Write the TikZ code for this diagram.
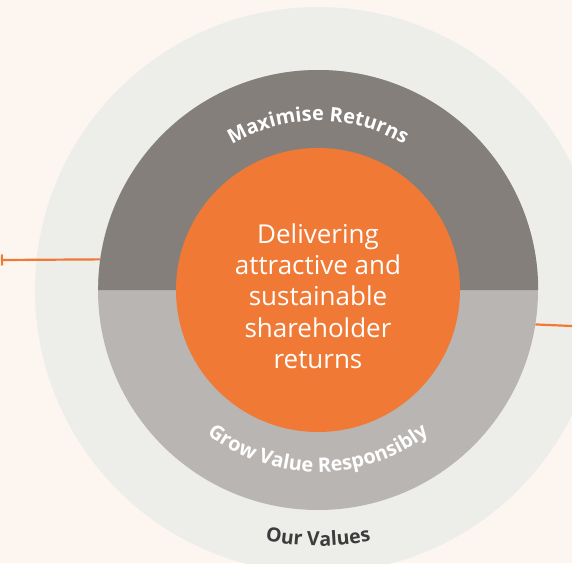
\documentclass[tikz,border=0pt]{standalone}
\usepackage{fontspec}
\setmainfont{Open Sans}
\usetikzlibrary{decorations.text,arrows.meta}
\definecolor{bgcol}{HTML}{FDF6F0}
\definecolor{outercol}{HTML}{EDEDEA}
\definecolor{darkcol}{HTML}{857F7B}
\definecolor{lightcol}{HTML}{B9B5B2}
\definecolor{orangecol}{HTML}{F07A35}
\definecolor{valtext}{HTML}{3C3C3C}
\tikzset{
  disc/.style={circle, draw=none, inner sep=0pt},
  connector/.style={draw=orangecol, line width=2.2pt},
  arctext/.style={decorate, decoration={text along path, text align=center, text color=white}},
}
\begin{document}
\begin{tikzpicture}[x=1pt,y=1pt]
\useasboundingbox[fill=bgcol] (-318,-273) rectangle (254,290);
\begin{scope}
\clip (-318,-273) rectangle (254,290);
\node[disc, fill=outercol, minimum size=566pt] (outer) at (0,0) {};
\node[disc, fill=lightcol, minimum size=440pt] (ring) at (0,0) {};
\fill[darkcol] (ring.east) arc[start angle=0, end angle=180, radius=220pt] -- cycle;
\node[disc, fill=orangecol, minimum size=284pt] (core) at (0,0) {};
\end{scope}
\node[text=white, align=center, font=\fontsize{26}{31.3}\selectfont] (msg) at (0,-6)
  {Delivering\\attractive and\\sustainable\\shareholder\\returns};
\path[arctext, decoration={text={|\fontsize{20}{20}\selectfont\bfseries|Maximise Returns}}]
  (150:169) arc[start angle=150, end angle=30, radius=169pt];
\path[arctext, decoration={text={|\fontsize{20}{20}\selectfont\bfseries|Grow Value Responsibly}}]
  (200:182) arc[start angle=200, end angle=340, radius=182pt];
\path[decorate, decoration={text along path, text align=center, text color=valtext,
  text={|\fontsize{19.5}{19.5}\selectfont\bfseries|Our Values}}]
  (235:256) arc[start angle=235, end angle=305, radius=256pt];
\coordinate (lend) at (-317,30);
\coordinate (rend) at (254,-36);
\draw[connector, {Bar[width=11pt,line width=2pt]}-] (lend) -- (ring.172.16);
\draw[connector] (ring.-9.42) -- (rend);
\end{tikzpicture}
\end{document}
